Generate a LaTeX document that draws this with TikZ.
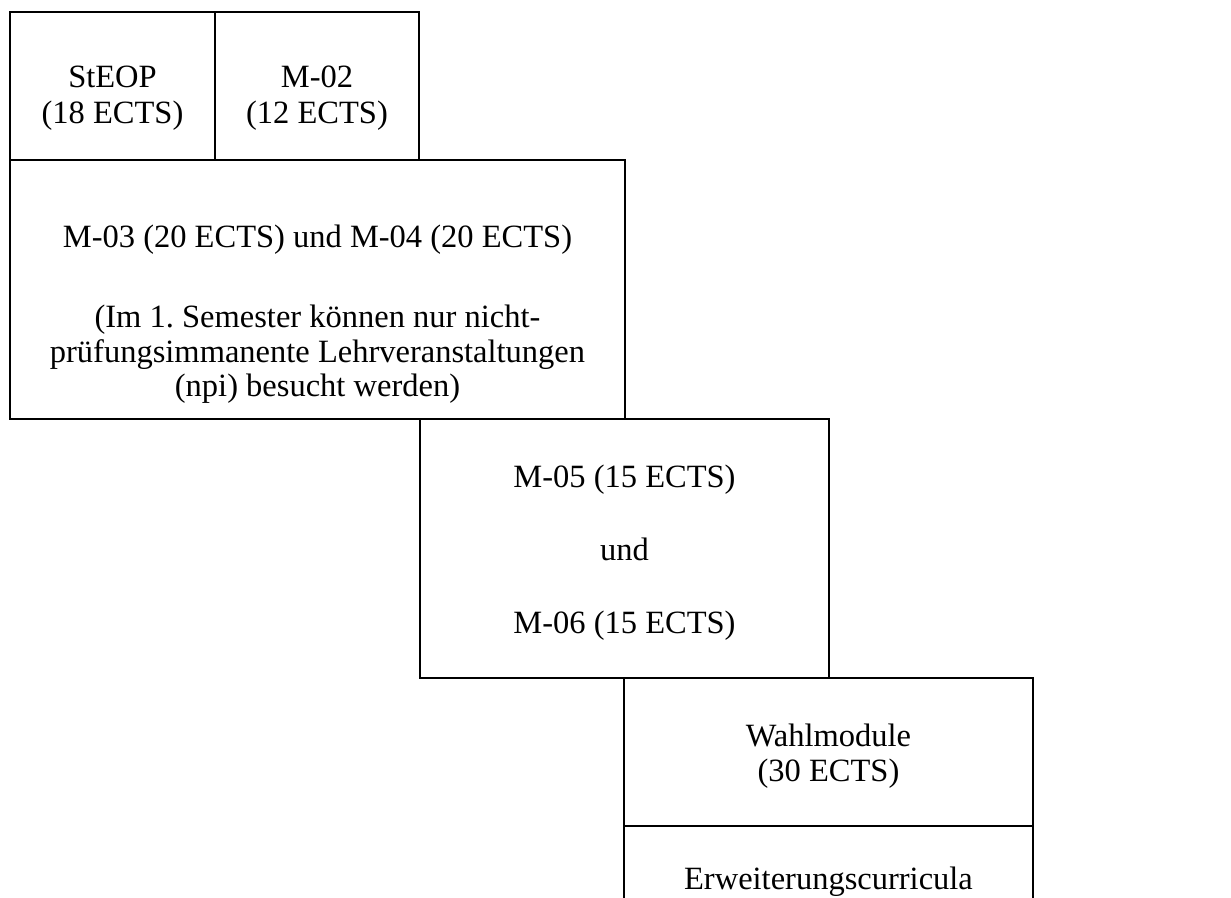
\documentclass[tikz,border=0pt]{standalone}
\usepackage{fontspec}
\setmainfont{Liberation Serif}
\frenchspacing
\begin{document}
\begin{tikzpicture}[x=1pt,y=-1pt,
  box/.style={draw=black,line width=2pt,rectangle,inner sep=0pt,outer sep=0pt,anchor=north west},
  txt/.style={inner sep=0pt,anchor=base,font=\fontsize{32.5}{37}\selectfont}]
\clip (0,0) rectangle (1231,897);
\fill[white] (0,0) rectangle (1231,897);
% boxes
\node[box,minimum width=205pt,minimum height=148pt] (steop) at (10,12) {};
\node[box,minimum width=204pt,minimum height=148pt] (m02) at (215,12) {};
\node[box,minimum width=615pt,minimum height=259pt] (m03) at (10,160) {};
\node[box,minimum width=409pt,minimum height=259pt] (m05) at (420,419) {};
\node[box,minimum width=409pt,minimum height=148pt] (wahl) at (624,678) {};
\node[box,minimum width=409pt,minimum height=120pt] (erw) at (624,826) {};
% texts
\node[txt] (steopA) at (112.5,87) {StEOP};
\node[txt] (steopB) at (112.5,123) {(18 ECTS)};
\node[txt] (m02A) at (317,87) {M-02};
\node[txt] (m02B) at (317,123) {(12 ECTS)};
\node[txt] (m03A) at (317.5,247) {M-03 (20 ECTS) und M-04 (20 ECTS)};
\node[txt] (m03B) at (317.5,327) {(Im 1. Semester können nur nicht-};
\node[txt] (m03C) at (317.5,362) {prüfungsimmanente Lehrveranstaltungen};
\node[txt] (m03D) at (317.5,396) {(npi) besucht werden)};
\node[txt] (m05A) at (624.5,487) {M-05 (15 ECTS)};
\node[txt] (m05B) at (624.5,560) {und};
\node[txt] (m05C) at (624.5,633) {M-06 (15 ECTS)};
\node[txt] (wahlA) at (828.5,746) {Wahlmodule};
\node[txt] (wahlB) at (828.5,781) {(30 ECTS)};
\node[txt] (erwA) at (828.5,889) {Erweiterungscurricula};
\end{tikzpicture}
\end{document}
